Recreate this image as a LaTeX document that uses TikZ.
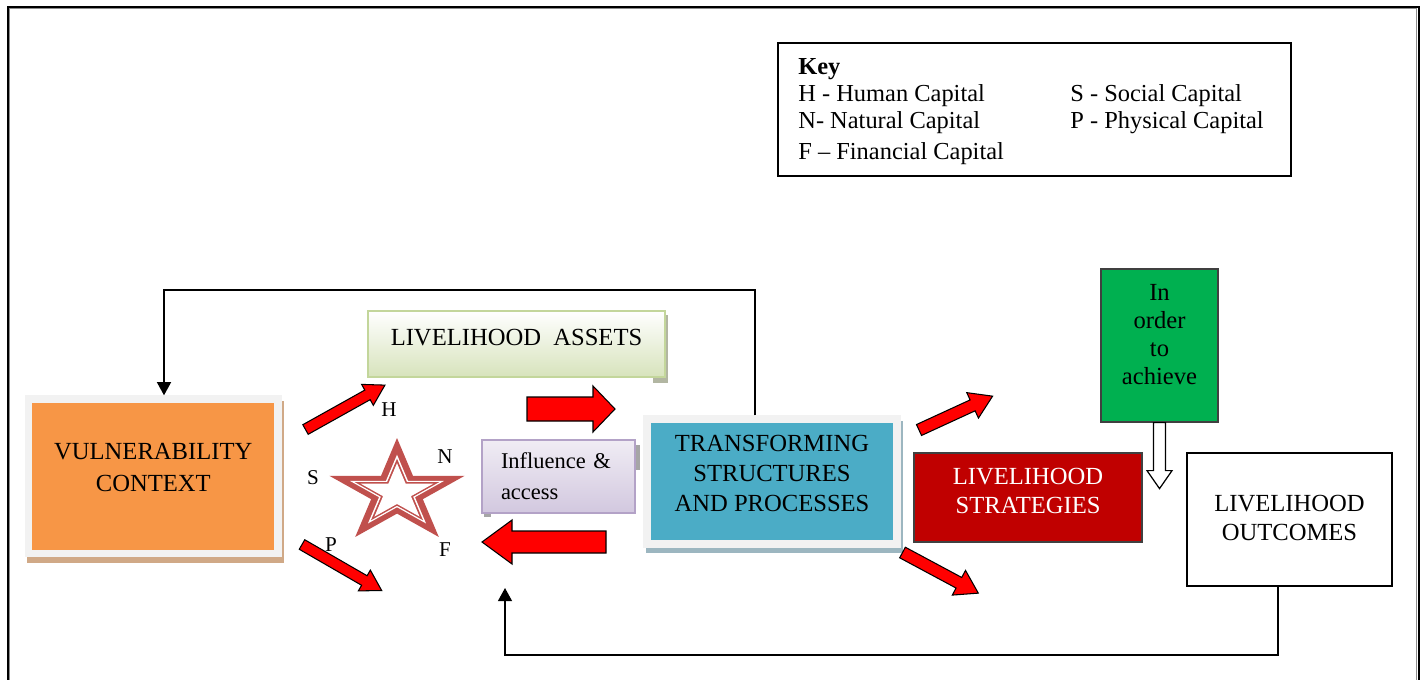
\documentclass[tikz,border=0pt]{standalone}
\usepackage{fontspec}
\setmainfont{Liberation Serif}
\usetikzlibrary{arrows.meta}

\definecolor{vcorange}{HTML}{F79646}
\definecolor{vcshadow}{HTML}{D0A987}
\definecolor{boxframe}{HTML}{F2F2F2}
\definecolor{tsblue}{HTML}{4BACC6}
\definecolor{tsshadow}{HTML}{9CB6C0}
\definecolor{lagreen}{HTML}{D7E3BC}
\definecolor{laborder}{HTML}{C3D69B}
\definecolor{lashadow}{HTML}{B2B6A2}
\definecolor{inftop}{HTML}{F0ECF4}
\definecolor{infbottom}{HTML}{D2C8DF}
\definecolor{infborder}{HTML}{B3A2C7}
\definecolor{starred}{HTML}{C0504D}
\definecolor{lsred}{HTML}{C00000}
\definecolor{grgreen}{HTML}{00B050}

\tikzset{
  mainbox/.style={rectangle, align=center, inner sep=0pt, font=\fontsize{14}{18}\selectfont},
  framedbox/.style={mainbox, draw=boxframe, line width=4.25pt,
    preaction={draw=#1, fill=#1, transform canvas={xshift=0.5mm, yshift=-1.1mm}}},
  capital/.style={font=\fontsize{12}{14}\selectfont, inner sep=0pt},
  redblock/.style={fill=red, draw=black, line width=0.6pt, line join=miter},
  hollowblock/.style={fill=white, draw=black, line width=0.7pt, line join=miter},
  feedback/.style={draw=black, line width=0.9pt, -{Triangle[length=7.5pt, width=8pt]}},
}

% block arrow: [style]{tail}{angle}{length}{shaft half}{head half}{head length}
\newcommand{\blockarrow}[7][redblock]{%
  \draw[#1, shift={#2}, rotate=#3]
    (0,-#5) -- ({#4-#7},-#5) -- ({#4-#7},-#6) -- (#4,0)
    -- ({#4-#7},#6) -- ({#4-#7},#5) -- (0,#5) -- cycle;}

% five point star
\newcommand{\starfill}[2]{%
  \fill[#1] (-90:#2) \foreach \a in {-18,54,126,198} {-- ({\a-36}:{0.382*#2}) -- (\a:#2)}
    -- (-126:{0.382*#2}) -- cycle;}

\begin{document}
\begin{tikzpicture}[x=0.2mm, y=-0.2mm]
  \useasboundingbox (0,0) rectangle (1424,679);
  % page frame
  \draw[black!45, line width=0.6pt] (9.8,8.8) rectangle (1416.5,720);
  \draw[line width=1.3pt] (7.8,6.8) rectangle (1419,720);

  % key
  \node[draw, line width=0.7pt, minimum width=102.6mm, minimum height=26.6mm] (key) at (1034.5,109.5) {};
  \node[anchor=north west, inner sep=0pt, font=\fontsize{13.9}{15.5}\selectfont] (keytext) at (798,55)
    {\begin{tabular}{@{}p{54.4mm}@{}l@{}}
      \textbf{Key} & \\
      H - Human Capital & S - Social Capital\\
      N- Natural Capital & P - Physical Capital\\[2pt]
      F -- Financial Capital &
    \end{tabular}};

  % boxes
  \node[framedbox=vcshadow, fill=vcorange, minimum width=49.9mm, minimum height=30.9mm,
    text depth=10.2pt] (vc) at (153.25,476.25)
    {VULNERABILITY\\CONTEXT};
  \node[framedbox=tsshadow, fill=tsblue, minimum width=50mm, minimum height=25mm,
    font=\fontsize{14}{17}\selectfont, text depth=9pt] (ts) at (772,481.5)
    {TRANSFORMING\\STRUCTURES\\AND PROCESSES};
  \fill[lashadow] (664,315) rectangle (668,383);
  \fill[lashadow] (653,377) rectangle (668,383);
  \node[mainbox, draw=laborder, line width=0.85pt, top color=white, bottom color=lagreen,
    minimum width=59.4mm, minimum height=13.2mm, text depth=8pt] (la) at (516.5,344) {LIVELIHOOD\ \ ASSETS};
  \fill[black!35] (634,445) rectangle (640,470);
  \fill[black!35] (484,512) rectangle (491,517);
  \node[rectangle, draw=infborder, line width=0.85pt, top color=inftop, bottom color=infbottom,
    minimum width=30.6mm, minimum height=14.6mm, text width=23mm, inner xsep=3.8mm, align=left,
    font=\fontsize{12.8}{17.5}\selectfont] (inf) at (558.5,476.5) {Influence \&\\access};
  \node[mainbox, draw=black!75, line width=0.6pt, fill=lsred, text=white,
    minimum width=45.6mm, minimum height=17.8mm, font=\fontsize{14}{16.5}\selectfont,
    text depth=8pt] (ls) at (1028,497.5)
    {LIVELIHOOD\\STRATEGIES};
  \node[mainbox, draw=black!75, line width=0.7pt, fill=grgreen,
    minimum width=23.4mm, minimum height=30.6mm, font=\fontsize{14}{16}\selectfont,
    text depth=12.5pt] (gr) at (1159.5,345.5)
    {In\\order\\to\\achieve};
  \node[mainbox, draw, line width=0.75pt, fill=white,
    minimum width=41mm, minimum height=26.6mm, font=\fontsize{14}{16.5}\selectfont,
    text depth=2.3pt] (lo) at (1289.5,519.5)
    {LIVELIHOOD\\OUTCOMES};

  % capitals star
  \coordinate (star) at (397,492.7);
  \begin{scope}[shift={(star)}, xscale=1.3]
    \starfill{starred}{54.7}
    \starfill{white}{38}
    \starfill{starred}{34}
    \starfill{white}{29.5}
  \end{scope}
  \node[capital] (lh) at (389,410) {H};
  \node[capital] (ln) at (445,457) {N};
  \node[capital] (lsc) at (313,478) {S};
  \node[capital] (lp) at (331,545) {P};
  \node[capital] (lf) at (445,550) {F};

  % red block arrows
  \coordinate (arH) at (305.5,429.5);
  \coordinate (arP) at (302,544.5);
  \coordinate (arR) at (527,409);
  \coordinate (arL) at (606,542);
  \coordinate (arU) at (919,430);
  \coordinate (arD) at (902.5,552.5);
  \blockarrow{(arH)}{29.2}{91}{5.5}{12}{20}
  \blockarrow{(arP)}{-30}{92}{5.5}{12}{20}
  \blockarrow{(arR)}{0}{88}{12}{23}{22}
  \blockarrow{(arL)}{180}{124}{11}{22}{30}
  \blockarrow{(arU)}{24.7}{81}{6}{14}{22}
  \blockarrow{(arD)}{-28.2}{86}{6}{14}{22}
  \blockarrow[hollowblock]{(gr.south)}{-90}{66}{6}{12.5}{18}

  % feedback loops
  \coordinate (fbA) at (755,290);
  \coordinate (fbB) at (164,290);
  \coordinate (fbC) at (1278,655);
  \coordinate (fbD) at (505,655);
  \coordinate (fbE) at (505,588);
  \draw[feedback] (ts.north -| fbA) -- (fbA) -- (fbB) -- (fbB |- vc.north);
  \draw[feedback] (lo.south -| fbC) -- (fbC) -- (fbD) -- (fbE);
\end{tikzpicture}
\end{document}
